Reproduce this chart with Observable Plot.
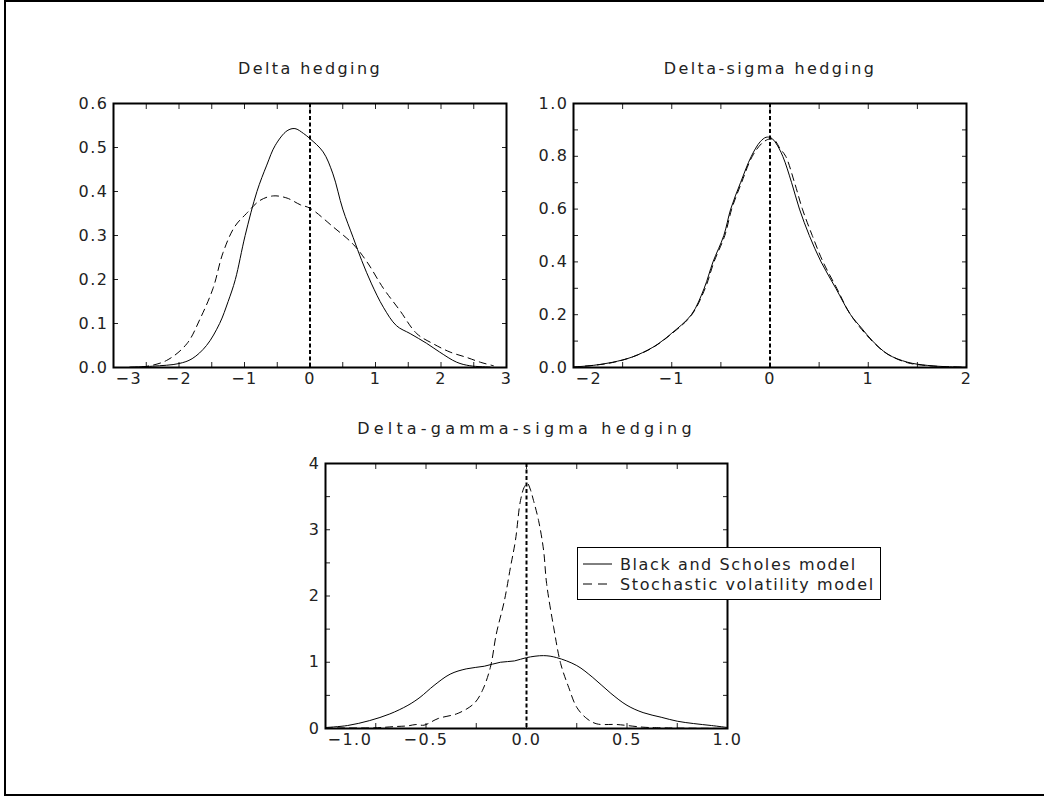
<!DOCTYPE html>
<html>
<head>
<meta charset="utf-8">
<script src="https://cdn.jsdelivr.net/npm/d3@7"></script>
<script src="https://cdn.jsdelivr.net/npm/@observablehq/plot@0.6"></script>
<style>
  html, body { margin: 0; padding: 0; background: #fff; }
  #page { position: relative; width: 1044px; height: 796px; overflow: hidden; background: #fff; }
  #border { position: absolute; left: 4px; top: 0px; width: 1060px; height: 792px;
            border-left: 2px solid #000; border-top: 2px solid #000; border-bottom: 2px solid #000; }
  .layer { position: absolute; left: 0; top: 0; }
</style>
</head>
<body>
<div id="page"><div id="border"></div></div>
<script>
// ---------- data ----------
const titles = ["Delta hedging", "Delta-sigma hedging", "Delta-gamma-sigma hedging"];
const legendLabels = ["Black and Scholes model", "Stochastic volatility model"];

// Panel 1: Delta hedging
const dhBsX = [-2.75,-2.4,-2.0,-1.8,-1.58,-1.38,-1.25,-1.14,-0.99,-0.81,-0.66,-0.53,-0.35,-0.23,-0.1,0,0.2,0.35,0.5,0.66,0.79,0.94,1.12,1.32,1.53,1.78,1.98,2.24,2.44,2.75];
const dhBsY = [0.001,0.003,0.009,0.02,0.05,0.1,0.15,0.2,0.3,0.4,0.46,0.505,0.538,0.543,0.532,0.52,0.49,0.44,0.36,0.295,0.243,0.19,0.137,0.095,0.077,0.055,0.035,0.012,0.004,0.001];
const dhSvX = [-2.75,-2.52,-2.19,-1.88,-1.68,-1.48,-1.33,-1.15,-0.97,-0.76,-0.56,-0.35,-0.15,0,0.35,0.66,0.87,1.12,1.37,1.63,1.88,2.14,2.39,2.6,2.8];
const dhSvY = [0.0,0.002,0.016,0.054,0.11,0.18,0.26,0.32,0.35,0.38,0.39,0.385,0.37,0.362,0.32,0.28,0.24,0.18,0.13,0.077,0.054,0.035,0.023,0.012,0.004];

// Panel 2: Delta-sigma hedging
const dsBsX = [-2.0,-1.8,-1.6,-1.4,-1.2,-1.1,-1.0,-0.8,-0.67,-0.58,-0.47,-0.4,-0.3,-0.19,-0.1,-0.04,0.01,0.06,0.13,0.22,0.30,0.40,0.52,0.67,0.82,0.93,1.045,1.2,1.4,1.6,1.8,2.0];
const dsBsY = [0.002,0.008,0.02,0.04,0.075,0.1,0.13,0.2,0.3,0.4,0.5,0.6,0.7,0.8,0.855,0.872,0.87,0.85,0.8,0.7,0.6,0.5,0.4,0.3,0.2,0.15,0.1,0.05,0.02,0.008,0.003,0.001];
const dsSvX = [-2.0,-1.8,-1.6,-1.4,-1.2,-1.0,-0.8,-0.66,-0.57,-0.46,-0.39,-0.29,-0.18,-0.08,0.0,0.05,0.1,0.16,0.25,0.33,0.43,0.54,0.68,0.82,1.04,1.2,1.4,1.6,1.8,2.0];
const dsSvY = [0.002,0.008,0.019,0.04,0.074,0.128,0.198,0.3,0.4,0.5,0.6,0.7,0.8,0.85,0.866,0.86,0.83,0.8,0.7,0.6,0.5,0.4,0.3,0.2,0.1,0.05,0.018,0.007,0.003,0.001];

// Panel 3: Delta-gamma-sigma hedging
const dgBsX = [-1.0,-0.89,-0.78,-0.68,-0.59,-0.53,-0.46,-0.38,-0.3,-0.21,-0.13,-0.06,0,0.085,0.15,0.25,0.33,0.42,0.5,0.58,0.67,0.75,0.83,0.92,1.0];
const dgBsY = [0.015,0.045,0.12,0.22,0.35,0.47,0.65,0.82,0.9,0.94,1.0,1.02,1.07,1.1,1.07,0.95,0.77,0.53,0.35,0.24,0.17,0.11,0.075,0.045,0.015];
const dgSvX = [-1.0,-0.76,-0.65,-0.59,-0.55,-0.51,-0.44,-0.34,-0.26,-0.22,-0.18,-0.15,-0.11,-0.08,-0.055,-0.03,-0.01,0.005,0.02,0.035,0.06,0.085,0.1,0.135,0.17,0.21,0.25,0.3,0.35,0.45,0.58,0.67,1.0];
const dgSvY = [0.01,0.01,0.03,0.04,0.06,0.05,0.15,0.23,0.38,0.57,0.92,1.43,1.93,2.43,2.84,3.44,3.65,3.7,3.6,3.44,3.14,2.69,2.19,1.53,0.98,0.62,0.32,0.15,0.07,0.06,0.02,0.01,0.0];

// tick values
const p1XTicks = [-3,-2.5,-2,-1.5,-1,-0.5,0,0.5,1,1.5,2,2.5,3];
const p1XLabels = [-2,-1,0,1,2,3];
const p1XEdgeLabel = [-3];
const p1YTicks = [0,0.1,0.2,0.3,0.4,0.5,0.6];
const p1YLabels = [0,0.1,0.2,0.3,0.4,0.5,0.6];
const p2XTicks = [-2,-1.5,-1,-0.5,0,0.5,1,1.5,2];
const p2XLabels = [-1,0,1,2];
const p2XEdgeLabel = [-2];
const p2YTicks = [0,0.1,0.2,0.3,0.4,0.5,0.6,0.7,0.8,0.9,1.0];
const p2YLabels = [0,0.2,0.4,0.6,0.8,1.0];
const p3XTicks = [-1,-0.75,-0.5,-0.25,0,0.25,0.5,0.75,1];
const p3XLabels = [-0.5,0,0.5,1.0];
const p3XEdgeLabel = [-1.0];
const p3YTicks = [0,0.5,1,1.5,2,2.5,3,3.5,4];
const p3YLabels = [0,1,2,3,4];

// ---------- drawing ----------
const W = 1044, H = 796;
const zip = (xs, ys) => xs.map((x, i) => ({x, y: ys[i]}));
const FONT = "'DejaVu Sans', 'Liberation Sans', sans-serif";

function panel({title, titleSpacing, frame, xDomain, yDomain, xTicks, xLabels, xEdge, yTicks, yLabels, xFmt, yFmt, bs, sv}) {
  const [L, T, R, B] = frame;
  const noText = () => "";
  const svg = Plot.plot({
    width: W, height: H,
    marginLeft: L, marginTop: T, marginRight: W - R, marginBottom: H - B,
    x: {domain: xDomain, label: null},
    y: {domain: yDomain, label: null},
    style: `background: transparent; font-family: ${FONT}; font-size: 16px; letter-spacing: 1.5px; color: #222; max-width: none;`,
    marks: [
      Plot.axisX(xTicks, {anchor: "bottom", tickSize: -5, tickFormat: noText, strokeWidth: 1}),
      Plot.axisX(xTicks, {anchor: "top", tickSize: -5, tickFormat: noText, strokeWidth: 1}),
      Plot.axisY(yTicks, {anchor: "left", tickSize: -5, tickFormat: noText, strokeWidth: 1}),
      Plot.axisY(yTicks, {anchor: "right", tickSize: -5, tickFormat: noText, strokeWidth: 1}),
      Plot.axisX(xLabels, {anchor: "bottom", tickSize: 0, tickPadding: 5, tickFormat: xFmt}),
      Plot.axisX(xEdge, {anchor: "bottom", tickSize: 0, tickPadding: 5, tickFormat: xFmt, textAnchor: "start", dx: 2}),
      Plot.axisY(yLabels, {anchor: "left", tickSize: 0, tickPadding: 5, tickFormat: yFmt}),
      Plot.ruleX([0], {stroke: "#000", strokeWidth: 2, strokeDasharray: "4,2.5"}),
      Plot.line(bs, {x: "x", y: "y", stroke: "#000", strokeWidth: 1, curve: "catmull-rom"}),
      Plot.line(sv, {x: "x", y: "y", stroke: "#000", strokeWidth: 1, strokeDasharray: "7,5", curve: "catmull-rom"}),
      Plot.frame({stroke: "#000", strokeWidth: 2}),
      Plot.text([title], {frameAnchor: "top", dy: -35, lineAnchor: "middle", fontSize: 16, fill: "#222"})
    ]
  });
  d3.select(svg).selectAll("text")
    .filter(function () { return this.textContent === title; })
    .style("letter-spacing", titleSpacing + "px");
  return svg;
}

const page = document.getElementById("page");
function addLayer(node) {
  const d = document.createElement("div");
  d.className = "layer";
  d.appendChild(node);
  page.appendChild(d);
  return d;
}

const fmt1 = d3.format(".1f");
const fmtInt = d => d3.format("d")(d);

addLayer(panel({
  title: titles[0], titleSpacing: 2.4, frame: [113, 103, 506, 367],
  xDomain: [-3, 3], yDomain: [0, 0.6],
  xTicks: p1XTicks, xLabels: p1XLabels, xEdge: p1XEdgeLabel, yTicks: p1YTicks, yLabels: p1YLabels,
  xFmt: fmtInt, yFmt: fmt1,
  bs: zip(dhBsX, dhBsY), sv: zip(dhSvX, dhSvY)
}));

addLayer(panel({
  title: titles[1], titleSpacing: 2.4, frame: [573, 103, 966, 367],
  xDomain: [-2, 2], yDomain: [0, 1],
  xTicks: p2XTicks, xLabels: p2XLabels, xEdge: p2XEdgeLabel, yTicks: p2YTicks, yLabels: p2YLabels,
  xFmt: fmtInt, yFmt: fmt1,
  bs: zip(dsBsX, dsBsY), sv: zip(dsSvX, dsSvY)
}));

addLayer(panel({
  title: titles[2], titleSpacing: 4.2, frame: [325, 463, 727, 728],
  xDomain: [-1, 1], yDomain: [0, 4],
  xTicks: p3XTicks, xLabels: p3XLabels, xEdge: p3XEdgeLabel, yTicks: p3YTicks, yLabels: p3YLabels,
  xFmt: fmt1, yFmt: fmtInt,
  bs: zip(dgBsX, dgBsY), sv: zip(dgSvX, dgSvY)
}));

// ---------- legend ----------
(function legend() {
  const lw = 304, lh = 53;
  const svg = d3.create("svg").attr("width", lw).attr("height", lh)
    .style("position", "absolute").style("left", "577px").style("top", "547px")
    .style("font-family", FONT).style("font-size", "16px")
    .style("letter-spacing", "1.6px");
  svg.append("rect").attr("x", 0.5).attr("y", 0.5).attr("width", lw - 1).attr("height", lh - 1)
    .attr("fill", "#fff").attr("stroke", "#000").attr("stroke-width", 1);
  const rows = [{dash: null, y: 17, base: 23}, {dash: "9,6", y: 37, base: 43}];
  rows.forEach((r, i) => {
    svg.append("line").attr("x1", 6).attr("x2", 35).attr("y1", r.y).attr("y2", r.y)
      .attr("stroke", "#000").attr("stroke-width", 1).attr("stroke-dasharray", r.dash);
    svg.append("text").attr("x", 43).attr("y", r.base).attr("fill", "#222").text(legendLabels[i]);
  });
  page.appendChild(svg.node());
})();
</script>
</body>
</html>
